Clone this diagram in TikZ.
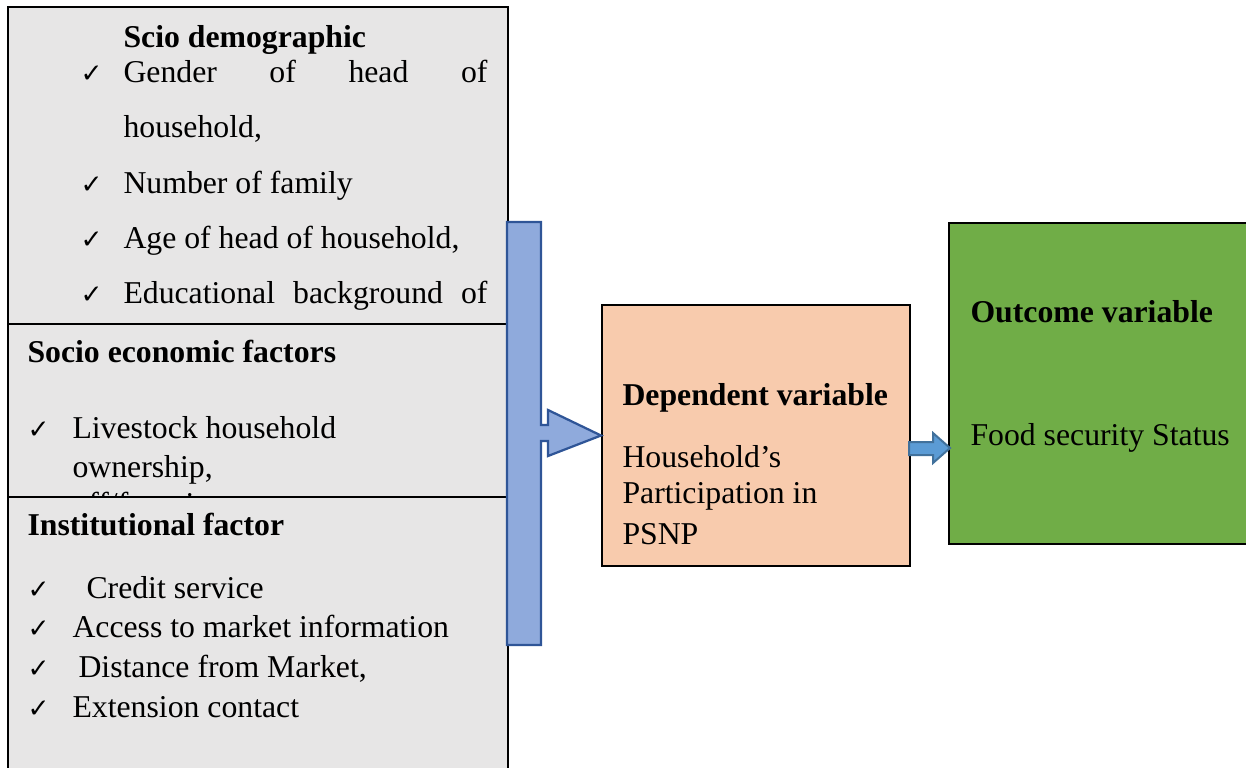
\documentclass[tikz,border=0pt]{standalone}
\usepackage{fontspec}
\setmainfont{Liberation Serif}
\newfontfamily\symfont{DejaVu Sans}
\usepackage{tikz}
\usetikzlibrary{positioning}
\definecolor{boxgray}{HTML}{E7E6E6}
\definecolor{barblue}{HTML}{8FAADC}
\definecolor{bardark}{HTML}{2F5597}
\definecolor{peach}{HTML}{F8CBAD}
\definecolor{leafgreen}{HTML}{70AD47}
\definecolor{arrowblue}{HTML}{5B9BD5}
\definecolor{arrowdark}{HTML}{41719C}
\tikzstyle{factor} = [draw, line width=0.8pt, fill=boxgray, anchor=north west, minimum width=200pt, inner sep=0pt]
\tikzstyle{txt} = [anchor=base west, inner sep=0pt, font=\fontsize{12.7}{15}\selectfont]
\tikzstyle{hd} = [txt, font=\fontsize{12.7}{15}\selectfont\bfseries]
\tikzstyle{chk} = [anchor=base west, inner sep=0pt, font=\fontsize{10.5}{11}\symfont]
\newcommand{\chkmark}{\char"2713}

\begin{document}
\begin{tikzpicture}[x=0.4pt,y=-0.4pt]
\useasboundingbox (0,0) rectangle (1246,767);
\clip (0,0) rectangle (1246,767);
% factor boxes, each one laid over the one above
\node[factor, minimum height=126.8pt] (demo) at (7,6) {};
\node[hd] (demoT) at (123,47) {Scio demographic};
\foreach \y in {82,193,248,303} \node[chk] at (80,\y) {\chkmark};
\node[txt] (demo1) at (123,82) {\makebox[145.6pt][s]{Gender\hfill of\hfill head\hfill of}};
\node[txt] (demo1b) at (123,137) {household,};
\node[txt] (demo2) at (123,193) {Number of family};
\node[txt] (demo3) at (123,248) {Age of head of household,};
\node[txt] (demo4) at (123,303) {\makebox[145.6pt][s]{Educational\hfill background\hfill of}};

\node[factor, minimum height=69.2pt] (econ) at (7,323) {};
\node[hd] (econT) at (27,362) {Socio economic factors};
\node[chk] at (27,438) {\chkmark};
\node[txt] (econ1) at (72,438) {Livestock household};
\node[txt] (econ1b) at (72,477) {ownership,};
% the last item is mostly hidden under the next box
\begin{scope}
  \clip (econ.north west) rectangle (econ.south east);
  \node[chk] at (27,514) {\chkmark};
  \node[txt] (econ2) at (72,514) {off/farm income};
\end{scope}

\node[factor, minimum height=112pt] (inst) at (7,496) {};
\node[hd] (instT) at (27,535) {Institutional factor};
\foreach \y in {598,637,677,717} \node[chk] at (27,\y) {\chkmark};
\node[txt] (inst1) at (86,598) {Credit service};
\node[txt] (inst2) at (72,637) {Access to market information};
\node[txt] (inst3) at (78,677) {Distance from Market,};
\node[txt] (inst4) at (72,717) {Extension contact};

% dependent and outcome boxes
\node[draw, line width=0.8pt, fill=peach, anchor=north west, minimum width=123.2pt, minimum height=104.4pt] (dep) at (601,304) {};
\node[hd] (depT) at (622,405) {Dependent variable};
\node[txt] (dep1) at (622,467) {Household’s};
\node[txt] (dep2) at (622,503) {Participation in};
\node[txt] (dep3) at (622,544) {PSNP};

\node[draw, line width=0.8pt, fill=leafgreen, anchor=north west, minimum width=121.6pt, minimum height=128.4pt] (out) at (948,222) {};
\node[hd] (outT) at (970,322) {Outcome variable};
\node[txt] (out1) at (970,445) {Food security Status};

% arrows
\coordinate (tipA) at (dep.west);
\draw[line width=0.9pt, draw=bardark, fill=barblue, line join=miter]
  (507,222) -- (541,222) -- (541,425) -- (548,425) -- (548,410) -- (tipA)
  -- (548,456) -- (548,441) -- (541,441) -- (541,645) -- (507,645) -- cycle;
\coordinate (tipB) at (950,448);
\draw[line width=0.8pt, draw=arrowdark, fill=arrowblue]
  (909,442) -- (933,442) -- (933,433) -- (tipB) -- (933,463) -- (933,455) -- (909,455) -- cycle;
\end{tikzpicture}
\end{document}
